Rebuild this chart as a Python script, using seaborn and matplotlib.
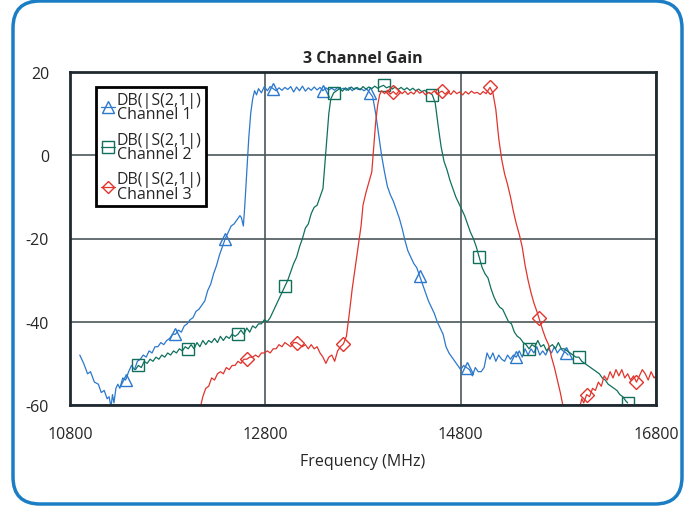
import numpy as np
import pandas as pd
import matplotlib
matplotlib.use("Agg")
import matplotlib.pyplot as plt
from matplotlib.lines import Line2D
from matplotlib.patches import FancyBboxPatch
from matplotlib.transforms import IdentityTransform
import seaborn as sns

# channel 1 (blue)
ch1_freq = [10900, 10940, 10980, 11010, 11050, 11090, 11120, 11150, 11180, 11200,
            11220, 11235, 11250, 11270, 11290, 11310, 11340, 11370, 11400, 11430,
            11460, 11490, 11520, 11550, 11580, 11610, 11640, 11670, 11700, 11730,
            11760, 11790, 11820, 11850, 11880, 11910, 11940, 11970, 12000, 12030,
            12060, 12090, 12120, 12150, 12180, 12210, 12240, 12270, 12300, 12330,
            12360, 12390, 12420, 12450, 12480, 12510, 12540, 12555, 12575, 12590,
            12610, 12630, 12650, 12670, 12690, 12710, 12730, 12760, 12790, 12820,
            12850, 12880, 12910, 12940, 12970, 13000, 13030, 13060, 13090, 13120,
            13150, 13180, 13210, 13240, 13270, 13300, 13330, 13360, 13390, 13420,
            13450, 13480, 13510, 13540, 13570, 13600, 13630, 13660, 13690, 13720,
            13750, 13780, 13810, 13840, 13870, 13900, 13930, 13960, 13990, 14020,
            14050, 14080, 14110, 14140, 14170, 14200, 14230, 14260, 14290, 14320,
            14350, 14380, 14410, 14440, 14470, 14500, 14530, 14560, 14590, 14620,
            14650, 14680, 14710, 14740, 14770, 14800, 14830, 14860, 14890, 14920,
            14950, 14980, 15010, 15040, 15070, 15100, 15130, 15160, 15190, 15220,
            15250, 15280, 15310, 15340, 15370, 15400, 15430, 15460, 15490, 15520,
            15550, 15580, 15610, 15640, 15670, 15700, 15730, 15760, 15790, 15820,
            15850, 15880, 15900]
ch1_db = [-48, -50, -52.5, -52, -54.5, -55, -57, -56.5, -58.5, -58,
          -60.5, -57.5, -59.5, -56, -55, -56, -53.5, -54, -52, -50.5,
          -51.5, -49.5, -49, -48, -48.5, -47, -47.5, -46, -46, -45,
          -45.5, -44.5, -44, -43, -43, -42, -42.5, -41, -40.5, -39.5,
          -39, -37.5, -37, -36, -35, -32.5, -31, -28.5, -26.5, -24,
          -22, -20, -18.5, -17, -16.5, -15.5, -14.5, -15, -17, -12,
          -4, 4, 10, 13.5, 15.5, 14.5, 16, 15, 16.5, 15.5,
          16.5, 16, 15.5, 16.2, 15.6, 16.3, 15.8, 16.5, 15.2, 16.4,
          15.5, 16.6, 15.4, 16.2, 15.6, 16.4, 15.7, 16.3, 15.5, 16.2,
          15.7, 16.1, 15.6, 16.3, 15.8, 16.1, 15.6, 16.3, 15.5, 16.2,
          15.8, 16.0, 15.5, 15.9, 15.0, 14, 10, 5, 0, -4,
          -7.5, -9.5, -11, -13, -15, -17.5, -20.5, -23, -24.5, -26,
          -27, -29, -31, -33, -35, -36.5, -38, -40, -41.5, -43,
          -46, -47.5, -48.5, -49.5, -50.5, -51.5, -50.5, -51, -51.5, -53,
          -51, -52, -52, -51, -47.5, -49, -47.5, -49.5, -48, -49,
          -49.5, -48, -49, -48, -48.5, -47, -48.5, -46.5, -48, -46.5,
          -47.5, -46, -48, -47, -48, -46.5, -47.5, -46, -47.5, -46.5,
          -47, -47.5, -48]
ch1_marks = [11380, 11880, 12380, 12880, 13380, 13860, 14380, 14870, 15370, 15870]

# channel 2 (green)
ch2_freq = [11470, 11500, 11530, 11560, 11590, 11620, 11650, 11680, 11710, 11740,
            11770, 11800, 11830, 11860, 11890, 11920, 11950, 11980, 12010, 12040,
            12070, 12100, 12130, 12160, 12190, 12220, 12250, 12280, 12310, 12340,
            12370, 12400, 12430, 12460, 12490, 12520, 12550, 12580, 12610, 12640,
            12670, 12700, 12730, 12760, 12790, 12820, 12850, 12880, 12910, 12940,
            12970, 13000, 13030, 13060, 13090, 13120, 13150, 13180, 13210, 13240,
            13270, 13300, 13330, 13360, 13390, 13410, 13430, 13450, 13470, 13500,
            13530, 13560, 13590, 13620, 13650, 13680, 13710, 13740, 13770, 13800,
            13830, 13860, 13890, 13920, 13950, 13980, 14010, 14040, 14070, 14100,
            14130, 14160, 14190, 14220, 14250, 14280, 14310, 14340, 14370, 14400,
            14430, 14460, 14480, 14510, 14540, 14570, 14600, 14630, 14660, 14690,
            14720, 14750, 14780, 14810, 14840, 14870, 14900, 14930, 14960, 14990,
            15020, 15050, 15080, 15110, 15140, 15170, 15200, 15230, 15260, 15290,
            15320, 15350, 15380, 15410, 15440, 15470, 15500, 15530, 15560, 15590,
            15620, 15650, 15680, 15710, 15740, 15770, 15800, 15830, 15860, 15890,
            15920, 15950, 15980, 16010, 16040, 16070, 16100, 16130, 16160, 16190,
            16220, 16250, 16280, 16310, 16340, 16370, 16400, 16430, 16460, 16490,
            16510]
ch2_db = [-51.5, -50.5, -51, -49.5, -50, -49, -49.5, -48.5, -49, -48,
          -48.5, -47.5, -48, -47, -47.5, -46.5, -47, -46, -46.5, -45.5,
          -46.5, -45, -46, -44.5, -45.5, -44.5, -45, -44, -45, -43.5,
          -44.5, -43.5, -44, -43, -43.5, -43, -42, -43, -41.5, -42.5,
          -41, -41.5, -40.5, -40.5, -39.5, -40, -39, -37.5, -36, -34.5,
          -33, -31.5, -30, -28, -26, -24.5, -22, -20, -17.5, -16.5,
          -14, -12.5, -12, -10, -8, -2, 4, 10, 13.5, 15,
          15.5, 16, 15.4, 16.2, 15.6, 16.4, 15.8, 16.3, 15.7, 16.5,
          15.9, 16.4, 16.0, 16.6, 16.1, 16.5, 16.8, 16.2, 16.5, 15.9,
          16.4, 15.8, 16.3, 15.7, 16.2, 15.6, 16.1, 15.5, 15.9, 15.3,
          15.6, 15.1, 15, 14.5, 12.5, 7, 2, -1.5, -3.5, -6,
          -8, -10, -11.5, -13, -14.5, -16.5, -18.5, -20, -22, -24.5,
          -27, -28.5, -29.5, -32, -34, -35.5, -36.5, -37, -38.5, -40,
          -40.5, -42.5, -43.5, -44, -45, -45.5, -46.5, -45.5, -46, -44.5,
          -46, -45.5, -47, -46, -45.5, -46.5, -45, -46.5, -46.5, -47,
          -47.5, -48, -48.5, -48.5, -49.5, -50, -50.5, -51, -51.5, -52,
          -52.5, -53.5, -54, -55, -55.5, -56, -56.5, -57.5, -58, -59,
          -59.5]
ch2_marks = [11510, 12010, 12520, 13000, 13500, 14010, 14510, 14990, 15500, 16010, 16510]

# channel 3 (red)
ch3_freq = [12130, 12160, 12190, 12220, 12250, 12280, 12310, 12340, 12370, 12400,
            12430, 12460, 12490, 12520, 12550, 12580, 12610, 12640, 12670, 12700,
            12730, 12760, 12790, 12820, 12850, 12880, 12910, 12940, 12970, 13000,
            13030, 13060, 13090, 13120, 13150, 13180, 13210, 13240, 13270, 13300,
            13330, 13360, 13390, 13420, 13450, 13480, 13510, 13540, 13570, 13600,
            13630, 13660, 13690, 13720, 13750, 13780, 13800, 13830, 13860, 13890,
            13910, 13930, 13950, 13970, 13990, 14020, 14050, 14080, 14110, 14140,
            14170, 14200, 14230, 14260, 14290, 14320, 14350, 14380, 14410, 14440,
            14470, 14500, 14530, 14560, 14590, 14610, 14640, 14670, 14700, 14730,
            14760, 14790, 14820, 14850, 14880, 14910, 14940, 14970, 15000, 15030,
            15060, 15100, 15130, 15160, 15190, 15220, 15250, 15280, 15310, 15340,
            15370, 15400, 15430, 15460, 15490, 15520, 15550, 15580, 15600, 15640,
            15670, 15700, 15730, 15760, 15790, 15820, 15850, 15880, 15920, 15990,
            16020, 16040, 16060, 16090, 16120, 16150, 16180, 16210, 16240, 16270,
            16300, 16330, 16360, 16390, 16420, 16450, 16480, 16510, 16540, 16570,
            16600, 16630, 16660, 16690, 16720, 16750, 16780, 16800]
ch3_db = [-61, -58, -56, -55.5, -53.5, -54, -52.5, -52, -52.5, -51,
          -51.5, -50.5, -50.5, -49.5, -50, -49, -49, -48.5, -48.5, -48,
          -48.5, -47.5, -47.5, -47, -47.5, -46.5, -46.5, -45.5, -46, -45,
          -45.5, -46, -45, -45, -45.5, -46, -45.5, -46.5, -45.5, -46.5,
          -46, -47.5, -48.5, -50, -48.5, -48, -49.5, -47, -46, -45.3,
          -43.5, -38, -32, -27, -22, -17, -12, -9, -6.5, -4,
          2, 8, 12, 14.5, 15.5, 14.8, 15.6, 14.7, 15.3, 14.6,
          15.5, 14.8, 15.4, 14.6, 15.2, 14.7, 15.6, 14.9, 15.3, 14.5,
          15.1, 14.8, 15.5, 14.6, 15.2, 15.4, 14.7, 15.3, 14.6, 15.5,
          14.8, 15.2, 14.5, 15.3, 14.7, 15.4, 14.9, 15.1, 14.6, 15.3,
          14.8, 16.3, 15, 11, 4, -1, -4.5, -7, -10, -13.5,
          -16.5, -19, -22, -26.5, -30, -33, -35.5, -37.5, -39, -42,
          -44, -45.5, -48.5, -51, -54, -57, -60.5, -64, -66, -66,
          -60.5, -58.5, -59.5, -57.5, -58, -56, -56.5, -54.5, -55.5, -53,
          -54, -52, -53.5, -51.5, -53, -51.5, -53.5, -52.5, -54, -53,
          -54.5, -53, -51.5, -52.5, -54, -52, -53.5, -53]
ch3_marks = [12610, 13120, 13600, 14110, 14610, 15100, 15600, 16090, 16600]

labels = ["DB(|S(2,1|)\nChannel 1", "DB(|S(2,1|)\nChannel 2", "DB(|S(2,1|)\nChannel 3"]
colors = ["#2c78cc", "#10705c", "#e0342c"]
markers = ["^", "s", "D"]
msizes = [9, 9, 7]

x_ticks = [10800, 12800, 14800, 16800]
y_ticks = [-60, -40, -20, 0, 20]

sns.set_style("white")
plt.rcParams['font.family'] = ['Open Sans', 'DejaVu Sans']

fig = plt.figure(figsize=(6.86, 5.10), dpi=100)
ax = fig.add_axes([70 / 686, 1 - 406 / 510, 586 / 686, 333 / 510])

series = [(ch1_freq, ch1_db, ch1_marks), (ch2_freq, ch2_db, ch2_marks), (ch3_freq, ch3_db, ch3_marks)]
handles = []
for i, (fq, db, mk) in enumerate(series):
    df = pd.DataFrame({"freq": fq, "db": db})
    fq_arr = np.array(fq)
    idx = [int(np.argmin(np.abs(fq_arr - m))) for m in mk]
    sns.lineplot(data=df, x="freq", y="db", ax=ax, color=colors[i], lw=0.9,
                 sort=False, estimator=None, marker=markers[i], markevery=idx,
                 markersize=msizes[i], markerfacecolor="none",
                 markeredgecolor=colors[i], markeredgewidth=1.0)
    handles.append(Line2D([0], [0], color=colors[i], lw=0.9, marker=markers[i],
                          markersize=msizes[i] - 1, markerfacecolor="none",
                          markeredgecolor=colors[i], markeredgewidth=1.0))

ax.set_xlim(10800, 16800)
ax.set_ylim(-60, 20)
ax.set_xticks(x_ticks)
ax.set_yticks(y_ticks)
ax.set_xticklabels([str(t) for t in x_ticks])
ax.set_yticklabels([str(t) for t in y_ticks])
ax.tick_params(axis="both", labelsize=11.5, length=3, width=1, color="#333b3f", pad=12, direction="out")
ax.grid(True, color="#4b575b", lw=1.2)
for s in ax.spines.values():
    s.set_color("#1f2a30")
    s.set_linewidth(2)

ax.set_xlabel("Frequency (MHz)", fontsize=11.5, labelpad=8)
ax.set_ylabel("")
ax.set_title("3 Channel Gain", fontsize=11.5, fontweight="bold", pad=7)

leg = ax.legend(handles, labels, loc="upper left", bbox_to_anchor=(0.044, 0.955),
                fontsize=11.5, fancybox=False, framealpha=1,
                edgecolor="black", handlelength=0.9, handletextpad=0.1,
                labelspacing=0.6, borderpad=0.3, borderaxespad=0)
leg.get_frame().set_linewidth(2)
for t in leg.get_texts():
    t.set_linespacing(0.85)

border = FancyBboxPatch((13, 5), 669, 503, boxstyle="round,pad=0,rounding_size=27",
                        transform=IdentityTransform(), facecolor="none",
                        edgecolor="#1b7ec4", lw=2.5)
fig.add_artist(border)

fig.savefig("out.png", dpi=100)
plt.close()
